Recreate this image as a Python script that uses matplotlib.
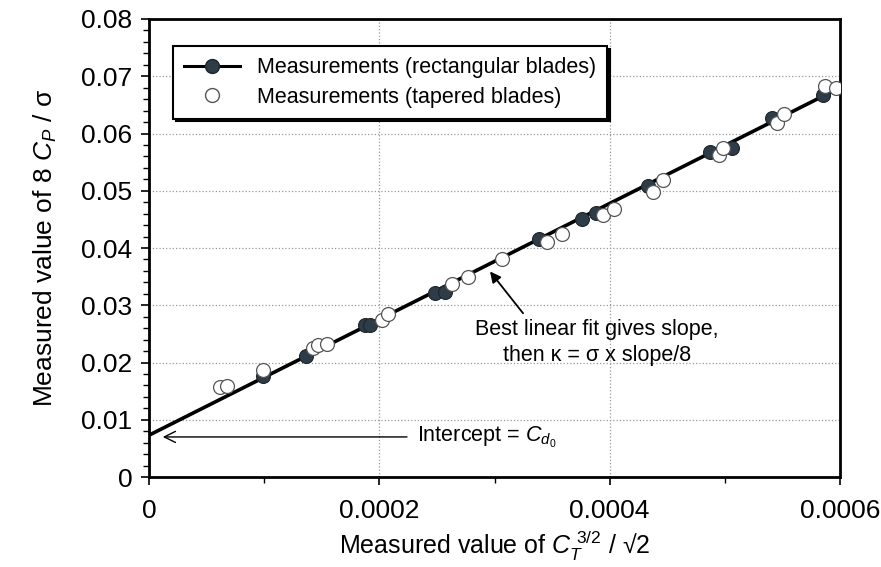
import matplotlib.pyplot as plt
from matplotlib.lines import Line2D
from matplotlib.ticker import MultipleLocator

plt.rcParams['font.family'] = ['Liberation Sans', 'DejaVu Sans']
plt.rcParams['mathtext.fontset'] = 'custom'
plt.rcParams['mathtext.rm'] = 'Liberation Sans'
plt.rcParams['mathtext.it'] = 'Liberation Sans:italic'

# rectangular blades (filled symbols)
rect_x = [0.99e-4, 1.363e-4, 1.876e-4, 1.919e-4, 2.484e-4, 2.57e-4, 3.39e-4,
          3.757e-4, 3.882e-4, 4.336e-4, 4.872e-4, 5.06e-4, 5.408e-4, 5.856e-4]
rect_y = [0.0176, 0.0211, 0.0266, 0.0266, 0.0321, 0.0324, 0.0415,
          0.0450, 0.0462, 0.0508, 0.0568, 0.0574, 0.0627, 0.0667]

# tapered blades (open symbols)
tap_x = [0.617e-4, 0.675e-4, 0.987e-4, 1.427e-4, 1.47e-4, 1.543e-4, 2.02e-4,
         2.078e-4, 2.628e-4, 2.773e-4, 3.063e-4, 3.454e-4, 3.584e-4, 3.946e-4,
         4.038e-4, 4.38e-4, 4.466e-4, 4.953e-4, 4.988e-4, 5.451e-4, 5.515e-4,
         5.871e-4, 5.966e-4]
tap_y = [0.0157, 0.0159, 0.0187, 0.0225, 0.0231, 0.0232, 0.0275,
         0.0285, 0.0337, 0.0350, 0.0380, 0.0411, 0.0424, 0.0458,
         0.0469, 0.0498, 0.0519, 0.0562, 0.0574, 0.0618, 0.0634,
         0.0683, 0.0679]

# best linear fit
fit_intercept = 0.0073
fit_slope = 101.2
fit_x = [0.0, 0.0006]
fit_y = [fit_intercept + fit_slope * v for v in fit_x]

xticks = [0, 0.0002, 0.0004, 0.0006]
xticklabels = ['0', '0.0002', '0.0004', '0.0006']
yticks = [0, 0.01, 0.02, 0.03, 0.04, 0.05, 0.06, 0.07, 0.08]
yticklabels = ['0', '0.01', '0.02', '0.03', '0.04', '0.05', '0.06', '0.07', '0.08']

dark = '#2e3c47'

fig = plt.figure(figsize=(8.81, 5.67), dpi=100)
ax = fig.add_axes([0.1691, 0.1587, 0.7844, 0.8078])

ax.plot(fit_x, fit_y, color='black', linewidth=2.6, zorder=3)
ax.plot(rect_x, rect_y, linestyle='none', marker='o', markersize=10,
        markerfacecolor=dark, markeredgecolor='#1c252c', markeredgewidth=0.8, zorder=4)
ax.plot(tap_x, tap_y, linestyle='none', marker='o', markersize=10,
        markerfacecolor='white', markeredgecolor='#555555', markeredgewidth=0.9, zorder=5)

ax.set_xlim(0, 0.0006)
ax.set_ylim(0, 0.08)
ax.set_xticks(xticks)
ax.set_xticklabels(xticklabels)
ax.set_yticks(yticks)
ax.set_yticklabels(yticklabels)
ax.xaxis.set_minor_locator(MultipleLocator(0.0001))
ax.yaxis.set_minor_locator(MultipleLocator(0.002))
ax.tick_params(which='major', direction='out', length=6, width=1.2, labelsize=19, pad=6)
ax.tick_params(axis='x', which='major', pad=10)
ax.tick_params(which='minor', direction='out', length=4, width=1.0)
ax.grid(True, which='major', linestyle=':', linewidth=0.9, color='#999999')
ax.set_axisbelow(True)
for s in ax.spines.values():
    s.set_linewidth(2.0)

ax.set_xlabel('Measured value of $C_T^{\\ 3/2}$ / \u221a2', fontsize=18, labelpad=4)
ax.set_ylabel('Measured value of 8 $C_P$ / \u03c3', fontsize=19, labelpad=16)

# legend with a black drop shadow
handles = [
    Line2D([], [], color='black', linewidth=2.2, marker='o', markersize=10,
           markerfacecolor=dark, markeredgecolor='#1c252c'),
    Line2D([], [], linestyle='none', marker='o', markersize=10,
           markerfacecolor='white', markeredgecolor='#555555'),
]
leg = ax.legend(handles, ['Measurements (rectangular blades)',
                          'Measurements (tapered blades)'],
                loc='upper left', bbox_to_anchor=(0.035, 0.94), borderaxespad=0,
                fancybox=False, fontsize=15.5, handlelength=2.6, borderpad=0.5,
                labelspacing=0.4, shadow={'color': 'black', 'alpha': 1.0})
leg.get_frame().set_edgecolor('black')
leg.get_frame().set_linewidth(1.5)
leg.set_zorder(10)

ax.annotate('', xy=(2.961e-4, 0.0359), xytext=(3.248e-4, 0.0286),
            arrowprops=dict(arrowstyle='-|>', color='black', linewidth=1.3,
                            mutation_scale=16, shrinkA=0, shrinkB=0))
ax.text(3.89e-4, 0.0235, 'Best linear fit gives slope,\nthen \u03ba = \u03c3 x slope/8',
        ha='center', va='center', fontsize=15.5, linespacing=1.3)

ax.annotate('', xy=(0.12e-4, 0.0070), xytext=(2.24e-4, 0.0070),
            arrowprops=dict(arrowstyle='->', color='black', linewidth=1.0,
                            mutation_scale=20, shrinkA=0, shrinkB=0))
ax.text(2.33e-4, 0.0070, r'Intercept = $C_{d_0}$', ha='left', va='center', fontsize=15.5)

fig.savefig('out.png', dpi=100)
